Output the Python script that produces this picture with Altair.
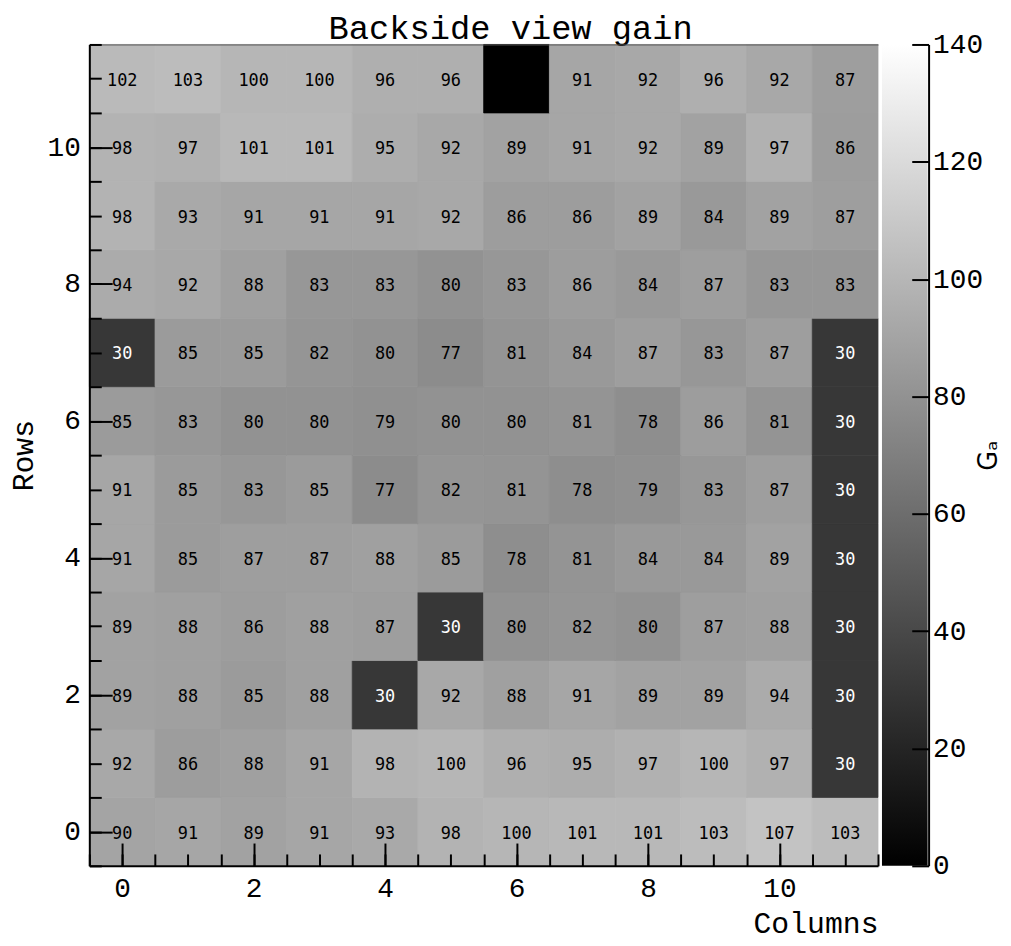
import altair as alt
import pandas as pd

# ---------------- data ----------------
columns = list(range(12))
rows = list(range(12))
# gain[r][c] : row r (0 = bottom), column c
gain = [
    [90, 91, 89, 91, 93, 98, 100, 101, 101, 103, 107, 103],
    [92, 86, 88, 91, 98, 100, 96, 95, 97, 100, 97, 30],
    [89, 88, 85, 88, 30, 92, 88, 91, 89, 89, 94, 30],
    [89, 88, 86, 88, 87, 30, 80, 82, 80, 87, 88, 30],
    [91, 85, 87, 87, 88, 85, 78, 81, 84, 84, 89, 30],
    [91, 85, 83, 85, 77, 82, 81, 78, 79, 83, 87, 30],
    [85, 83, 80, 80, 79, 80, 80, 81, 78, 86, 81, 30],
    [30, 85, 85, 82, 80, 77, 81, 84, 87, 83, 87, 30],
    [94, 92, 88, 83, 83, 80, 83, 86, 84, 87, 83, 83],
    [98, 93, 91, 91, 91, 92, 86, 86, 89, 84, 89, 87],
    [98, 97, 101, 101, 95, 92, 89, 91, 92, 89, 97, 86],
    [102, 103, 100, 100, 96, 96, 0, 91, 92, 96, 92, 87],
]
major_ticks = [0, 2, 4, 6, 8, 10]
minor_ticks = [-0.5, 0, 0.5, 1, 1.5, 2, 2.5, 3, 3.5, 4, 4.5, 5, 5.5, 6, 6.5,
               7, 7.5, 8, 8.5, 9, 9.5, 10, 10.5, 11, 11.5]
cbar_ticks = [0, 20, 40, 60, 80, 100, 120, 140]
cbar_range = [0, 140]

df = pd.DataFrame([{"col": c, "row": r, "v": gain[r][c]} for r in rows for c in columns])
cb_df = pd.DataFrame({"lo": [cbar_range[0]], "hi": [cbar_range[1]], "a": [0], "b": [1]})

# ---------------- layout / style ----------------
W, H = 795, 828
MONO = "Liberation Mono"
CELL_FONT = "DejaVu Sans Mono"
MAJ, MIN = 23, 12
CB_GAP, CB_W = 4, 47
CB_AXIS = CB_GAP + CB_W


def pos_scale():
    return alt.Scale(domain=[-0.5, 11.5], nice=False, zero=False)


gray = alt.Scale(domain=cbar_range, range=["#000000", "#ffffff"], interpolate="rgb")

calc = dict(x0="datum.col - 0.5", x1="datum.col + 0.5",
            y0="datum.row - 0.5", y1="datum.row + 0.5")

# heat map cells + main axes (labels, domain lines, titles)
heat = alt.Chart(df).transform_calculate(**calc).mark_rect(strokeWidth=0.8).encode(
    x=alt.X("x0:Q", scale=pos_scale(), axis=alt.Axis(
        orient="bottom", values=major_ticks, format="d", ticks=False, grid=False,
        domain=True, domainColor="black", domainWidth=2, zindex=2,
        labelFont=MONO, labelFontSize=28, labelColor="black", labelPadding=9,
        labelFlush=False, title="Columns", titleFont=MONO, titleFontSize=30,
        titleFontWeight="normal", titleColor="black", titleAnchor="end",
        titlePadding=6)),
    x2="x1:Q",
    y=alt.Y("y0:Q", scale=pos_scale(), axis=alt.Axis(
        orient="left", values=major_ticks, format="d", ticks=False, grid=False,
        domain=True, domainColor="black", domainWidth=2, zindex=2,
        labelFont=MONO, labelFontSize=28, labelColor="black", labelPadding=9,
        labelFlush=False, title="Rows", titleFont=MONO, titleFontSize=30,
        titleFontWeight="normal", titleColor="black", titlePadding=9)),
    y2="y1:Q",
    color=alt.Color("v:Q", scale=gray, legend=None),
    stroke=alt.Stroke("v:Q", scale=gray, legend=None),
)

# cell values + major (inward) ticks
text = alt.Chart(df).transform_filter("datum.v > 0").mark_text(
    font=CELL_FONT, fontSize=17, baseline="middle", align="center", dy=2
).encode(
    x=alt.X("col:Q", scale=pos_scale(), axis=alt.Axis(
        orient="bottom", values=major_ticks, labels=False, domain=False, grid=False,
        ticks=True, tickSize=MAJ, tickWidth=2, tickColor="black", offset=-MAJ,
        title=None, zindex=2)),
    y=alt.Y("row:Q", scale=pos_scale(), axis=alt.Axis(
        orient="left", values=major_ticks, labels=False, domain=False, grid=False,
        ticks=True, tickSize=MAJ, tickWidth=2, tickColor="black", offset=-MAJ,
        title=None, zindex=2)),
    text=alt.Text("v:Q"),
    color=alt.condition("datum.v < 50", alt.value("white"), alt.value("black")),
)

# minor (inward) ticks
minor = alt.Chart(df).mark_point(opacity=0).encode(
    x=alt.X("col:Q", scale=pos_scale(), axis=alt.Axis(
        orient="bottom", values=minor_ticks, labels=False, domain=False, grid=False,
        ticks=True, tickSize=MIN, tickWidth=2, tickColor="black", offset=-MIN,
        title=None, zindex=2)),
    y=alt.Y("row:Q", scale=pos_scale(), axis=alt.Axis(
        orient="left", values=minor_ticks, labels=False, domain=False, grid=False,
        ticks=True, tickSize=MIN, tickWidth=2, tickColor="black", offset=-MIN,
        title=None, zindex=2)),
)

# top frame line
frame = alt.Chart(df).mark_point(opacity=0).encode(
    x=alt.X("col:Q", scale=pos_scale(), axis=alt.Axis(
        orient="top", labels=False, ticks=False, grid=False, domain=True,
        domainColor="#555555", domainWidth=1, title=None, zindex=2)),
    y=alt.Y("row:Q", scale=pos_scale(), axis=None),
)

# colour bar
grad = alt.LinearGradient(
    gradient="linear",
    stops=[alt.GradientStop(color="#000000", offset=0),
           alt.GradientStop(color="#ffffff", offset=1)],
    x1=0, x2=0, y1=1, y2=0,
)
cb_x = alt.Scale(domain=[0, 1], range=[W + CB_GAP, W + CB_AXIS - 1])
cbar = alt.Chart(cb_df).mark_rect(fill=grad).encode(
    x=alt.X("a:Q", scale=cb_x, axis=None),
    x2="b:Q",
    y=alt.Y("lo:Q", scale=alt.Scale(domain=cbar_range, nice=False, zero=False),
            axis=alt.Axis(orient="right", offset=CB_AXIS, values=cbar_ticks, format="d",
                          ticks=False, grid=False, domain=True, domainColor="black",
                          domainWidth=2, labelFont=MONO, labelFontSize=28,
                          labelColor="black", labelPadding=4, labelFlush=False,
                          title="Gₐ", titleFont="DejaVu Sans", titleFontSize=26,
                          titleFontWeight="normal", titleColor="black", titleAngle=270,
                          titleAlign="center", titleBaseline="middle",
                          titleX=60, titleY=H / 2, zindex=2)),
    y2="hi:Q",
)
cbar_ticks_layer = alt.Chart(cb_df).mark_rect(opacity=0).encode(
    x=alt.X("a:Q", scale=cb_x, axis=None),
    x2="b:Q",
    y=alt.Y("lo:Q", scale=alt.Scale(domain=cbar_range, nice=False, zero=False),
            axis=alt.Axis(orient="right", offset=CB_AXIS - 17, values=cbar_ticks,
                          labels=False, domain=False, grid=False, ticks=True,
                          tickSize=17, tickWidth=2, tickColor="black", title=None,
                          zindex=2)),
    y2="hi:Q",
)

chart = alt.layer(heat, text, minor, frame, cbar, cbar_ticks_layer).resolve_scale(
    x="independent", y="independent", color="independent", stroke="independent"
).properties(
    width=W, height=H,
    title=alt.TitleParams("Backside view gain", font=MONO, fontSize=34,
                          fontWeight="normal", color="black", anchor="middle",
                          frame="bounds", offset=-15, dx=6),
    padding={"left": 0, "top": 0, "right": 2, "bottom": 0},
).configure_view(stroke=None)

chart.save("out.html", embed_options={"renderer": "svg", "actions": False})
